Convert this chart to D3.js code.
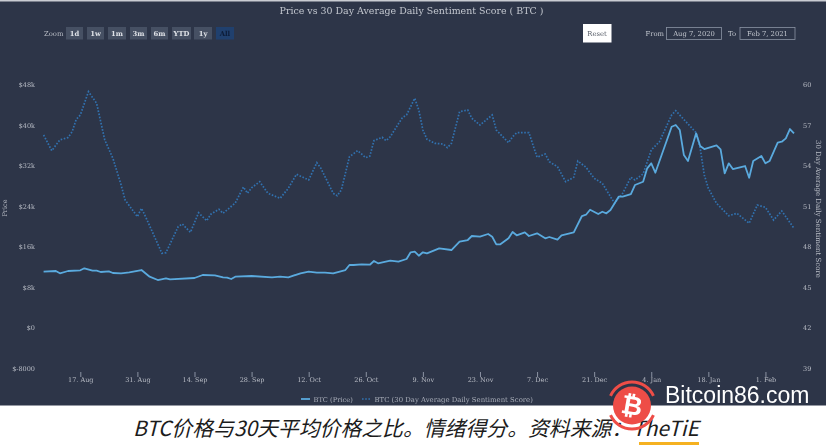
<!DOCTYPE html>
<html>
<head>
<meta charset="utf-8">
<script src="https://cdn.jsdelivr.net/npm/d3@7"></script>
<style>
    html, body { margin: 0; padding: 0; background: #ffffff; }
    svg { display: block; }
    .serif { font-family: "DejaVu Serif", serif; }
    .axis text { font-family: "DejaVu Serif", serif; font-size: 6.5px; fill: #b9bdc6; }
    .axis line { stroke: #8b93a3; }
    .axis path { display: none; }
</style>
</head>
<body>
<div id="chart"></div>
<script>
// days counted from the first point
const startDate = new Date(2020, 7, 8);

const priceDays = [0,3,4,6,9,10,12,13,14,16,17,19,21,24,26,28,30,31,37,39,42,44,45,46,47,51,56,58,60,63,65,67,69,71,74,75,76,78,80,81,82,85,87,89,90,91,92,93,94,97,100,102,104,105,107,109,110,111,112,114,115,116,118,119,121,123,124,126,127,130,132,133,134,136,137,138,139,141,142,144,145,147,148,149,150,154,155,156,157,158,160,161,162,165,166,167,168,169,172,173,174,176,177,178,180,181,182,183,184];
const priceValues = [11020,11159,10705,11159,11297,11692,11218,11218,10961,11100,10764,10705,10902,11356,10033,9381,9717,9520,9776,10369,10310,9915,9836,9579,10033,10171,9915,10033,9915,10705,11020,10823,10823,10705,11356,12344,12344,12482,12403,13134,12680,13193,12996,13529,14852,14971,14181,14852,14655,15642,15306,16946,17281,18071,17933,18466,17933,16432,16432,17617,18861,18210,18802,18071,18605,17617,17874,17341,18210,18802,22021,22278,23266,22416,22870,22555,23206,25833,25833,26366,28144,28796,31442,32430,30573,39658,39994,39006,34069,32884,38355,35846,35254,35985,35195,30455,32430,31304,31896,29586,32884,33871,32430,32884,36498,36696,37367,39204,38355];

const sentimentDays = [0,2,4,6,7,8,9,11,13,15,17,19,20,23,24,25,29,30,33,34,36,38,40,41,43,44,47,49,50,51,53,55,58,60,62,65,67,68,71,72,73,75,77,79,80,81,83,84,85,88,89,91,92,93,94,96,98,99,100,102,104,105,107,110,111,114,115,116,119,121,123,124,126,128,130,131,133,135,137,140,142,144,145,147,149,151,154,155,160,161,162,163,165,168,170,173,175,177,179,181,184];
const sentimentValues = [56.26,55.1,55.9,56.07,56.5,57.42,57.74,59.47,58.61,55.89,54.53,52.56,51.44,50.21,50.83,50.21,47.5,47.54,49.47,49.67,49.05,50.5,49.91,50.39,50.76,50.46,51.22,52.41,51.94,52.35,52.8,51.94,51.57,52.31,53.35,52.93,54.21,53.79,51.94,51.76,52.19,54.65,55.1,54.58,54.7,55.84,56.09,55.84,56.13,57.56,57.74,58.98,58.11,56.63,55.94,55.64,55.59,55.32,55.64,57.99,58.11,57.5,57,57.74,56.63,55.69,56.13,56.43,56.43,54.61,54.85,54.28,53.91,52.8,53.13,54.33,53.87,53.05,52.68,51.2,51.94,53.13,52.93,53.37,55.15,55.76,57.74,58.06,56.43,55.27,53.3,52.31,51.2,50.28,50.46,49.72,51.07,50.9,49.96,50.63,49.35];

const priceTicks = [-8000,0,8000,16000,24000,32000,40000,48000];
const sentimentTicks = [39,42,45,48,51,54,57,60];
const dateTicks = ['2020-08-17','2020-08-31','2020-09-14','2020-09-28','2020-10-12','2020-10-26','2020-11-09','2020-11-23','2020-12-07','2020-12-21','2021-01-04','2021-01-18','2021-02-01'];
const zoomLabels = ['1d','1w','1m','3m','6m','YTD','1y','All'];
const zoomLefts = [66,87,108,130,151,172,194,216];
const zoomWidths = [17,17,18,17,17,19,18,18];

const width = 826, height = 445;
const background = '#2d3548';
const parseDay = d3.timeParse('%Y-%m-%d');

const svg = d3.select('#chart').append('svg')
    .attr('width', width)
    .attr('height', height);

// chart panel, the bottom of the picture is the white caption strip
svg.append('rect').attr('x', 0).attr('y', 0).attr('width', width).attr('height', 405.5).attr('fill', background);
svg.append('rect').attr('x', 0).attr('y', 0).attr('width', width).attr('height', 1.5).attr('fill', '#c9ccd2');

const chart = svg.append('g').style('filter', 'blur(0.3px)');

const x = d3.scaleTime()
    .domain([startDate, d3.timeDay.offset(startDate, 184)])
    .range([43.6, 794]);

const yPrice = d3.scaleLinear().domain([-8000, 48000]).range([368, 84.5]);
const ySentiment = d3.scaleLinear().domain([39, 60]).range([368, 84.5]);

///////////////////////////////
// axes
///////////////////////////////
chart.append('g')
    .attr('class', 'axis')
    .attr('transform', 'translate(0,372)')
    .call(d3.axisBottom(x)
        .tickValues(dateTicks.map(parseDay))
        .tickSize(5)
        .tickPadding(0)
        .tickFormat(d3.timeFormat('%-d. %b')))
    .selectAll('text').attr('dy', '0.75em').attr('y', 5);

chart.append('g')
    .attr('class', 'axis')
    .attr('transform', 'translate(35,0)')
    .call(d3.axisLeft(yPrice)
        .tickValues(priceTicks)
        .tickSize(0)
        .tickPadding(0)
        .tickFormat(d => d <= 0 ? '$' + d : '$' + d / 1000 + 'k'));

chart.append('g')
    .attr('class', 'axis')
    .attr('transform', 'translate(803,0)')
    .call(d3.axisRight(ySentiment)
        .tickValues(sentimentTicks)
        .tickSize(0)
        .tickPadding(0));

chart.append('text')
    .attr('class', 'serif')
    .attr('transform', 'translate(6.5,208) rotate(-90)')
    .attr('text-anchor', 'middle')
    .attr('font-size', 6.5)
    .attr('fill', '#b9bdc6')
    .text('Price');

chart.append('text')
    .attr('class', 'serif')
    .attr('transform', 'translate(815.5,209) rotate(90)')
    .attr('text-anchor', 'middle')
    .attr('font-size', 7)
    .attr('fill', '#b9bdc6')
    .text('30 Day Average Daily Sentiment Score');

///////////////////////////////
// series
///////////////////////////////
const sentimentLine = d3.line()
    .x((d, i) => x(d3.timeDay.offset(startDate, sentimentDays[i])))
    .y(d => ySentiment(d));

const priceLine = d3.line()
    .x((d, i) => x(d3.timeDay.offset(startDate, priceDays[i])))
    .y(d => yPrice(d));

chart.append('path')
    .attr('d', sentimentLine(sentimentValues))
    .attr('fill', 'none')
    .attr('stroke', '#3172b0')
    .attr('stroke-width', 1.7)
    .attr('stroke-dasharray', '1.6,1.6');

chart.append('path')
    .attr('d', priceLine(priceValues))
    .attr('fill', 'none')
    .attr('stroke', '#5aaade')
    .attr('stroke-width', 1.8)
    .attr('stroke-linejoin', 'round');

///////////////////////////////
// title and controls
///////////////////////////////
chart.append('text')
    .attr('class', 'serif')
    .attr('x', 411.5)
    .attr('y', 14)
    .attr('text-anchor', 'middle')
    .attr('font-size', 9.45)
    .attr('fill', '#c3c7cf')
    .text('Price vs 30 Day Average Daily Sentiment Score ( BTC )');

chart.append('text')
    .attr('class', 'serif')
    .attr('x', 44)
    .attr('y', 35.5)
    .attr('font-size', 6.8)
    .attr('fill', '#b9bdc6')
    .text('Zoom');

zoomLabels.forEach((label, i) => {
    const active = label == 'All';
    chart.append('rect')
        .attr('x', zoomLefts[i])
        .attr('y', 27)
        .attr('width', zoomWidths[i])
        .attr('height', 12.5)
        .attr('fill', active ? '#20406e' : '#465063');
    chart.append('text')
        .attr('class', 'serif')
        .attr('x', zoomLefts[i] + zoomWidths[i] / 2)
        .attr('y', 35.5)
        .attr('text-anchor', 'middle')
        .attr('font-size', 6.8)
        .attr('font-weight', 'bold')
        .attr('fill', active ? '#0d1c38' : '#dfe2e7')
        .text(label);
});

chart.append('rect').attr('x', 583).attr('y', 24).attr('width', 28.5).attr('height', 18.5).attr('fill', '#ffffff');
chart.append('text')
    .attr('class', 'serif')
    .attr('x', 597)
    .attr('y', 35.5)
    .attr('text-anchor', 'middle')
    .attr('font-size', 6.8)
    .attr('fill', '#555b66')
    .text('Reset');

[['From', 645.5, 'Aug 7, 2020', 666.5], ['To', 728, 'Feb 7, 2021', 740]].forEach(d => {
    chart.append('text')
        .attr('class', 'serif')
        .attr('x', d[1])
        .attr('y', 35.5)
        .attr('font-size', 6.8)
        .attr('fill', '#c3c7cf')
        .text(d[0]);
    chart.append('rect')
        .attr('x', d[3])
        .attr('y', 27.5)
        .attr('width', 55)
        .attr('height', 12)
        .attr('fill', 'none')
        .attr('stroke', '#8b93a3')
        .attr('stroke-width', 0.8);
    chart.append('text')
        .attr('class', 'serif')
        .attr('x', d[3] + 27.5)
        .attr('y', 35.5)
        .attr('text-anchor', 'middle')
        .attr('font-size', 6.8)
        .attr('fill', '#c3c7cf')
        .text(d[2]);
});

///////////////////////////////
// legend
///////////////////////////////
chart.append('line')
    .attr('x1', 301).attr('x2', 310).attr('y1', 399).attr('y2', 399)
    .attr('stroke', '#5aaade').attr('stroke-width', 1.8);
chart.append('text')
    .attr('class', 'serif')
    .attr('x', 313.5).attr('y', 401.5)
    .attr('font-size', 6.7)
    .attr('fill', '#a9aeb9')
    .text('BTC (Price)');
chart.append('line')
    .attr('x1', 362).attr('x2', 371).attr('y1', 399).attr('y2', 399)
    .attr('stroke', '#3172b0').attr('stroke-width', 1.7).attr('stroke-dasharray', '1.6,1.6');
chart.append('text')
    .attr('class', 'serif')
    .attr('x', 374.5).attr('y', 401.5)
    .attr('font-size', 6.9)
    .attr('fill', '#a9aeb9')
    .text('BTC (30 Day Average Daily Sentiment Score)');

///////////////////////////////
// caption and watermark
///////////////////////////////
svg.append('text')
    .attr('x', 133)
    .attr('y', 435.5)
    .attr('font-family', '"Noto Sans CJK SC", "Noto Sans", sans-serif')
    .attr('font-style', 'italic')
    .attr('font-size', 20.85)
    .attr('fill', '#1c1c1c')
    .text('BTC价格与30天平均价格之比。情绪得分。资料来源：TheTiE');

svg.append('rect').attr('x', 639).attr('y', 442).attr('width', 60).attr('height', 3).attr('fill', '#f5b120');

const logo = svg.append('g').attr('transform', 'translate(632,405.5)');
const ring = d3.arc().innerRadius(22).outerRadius(25);
logo.append('path').attr('d', ring({ startAngle: -1.15, endAngle: 1.15 })).attr('fill', '#ee4d47');
logo.append('path').attr('d', ring({ startAngle: Math.PI - 1.15, endAngle: Math.PI + 1.15 })).attr('fill', '#ee4d47');
logo.append('circle').attr('r', 19).attr('fill', '#ee4d47');
logo.append('text')
    .attr('text-anchor', 'middle')
    .attr('y', 9)
    .attr('font-family', '"Liberation Sans", sans-serif')
    .attr('font-weight', 'bold')
    .attr('font-size', 26)
    .attr('fill', '#ffffff')
    .attr('transform', 'rotate(10)')
    .text('\u20BF');

svg.append('text')
    .attr('x', 665)
    .attr('y', 403)
    .attr('font-family', '"Liberation Sans", sans-serif')
    .attr('font-size', 23)
    .attr('fill', '#ffffff')
    .text('Bitcoin86.com');
</script>
</body>
</html>
